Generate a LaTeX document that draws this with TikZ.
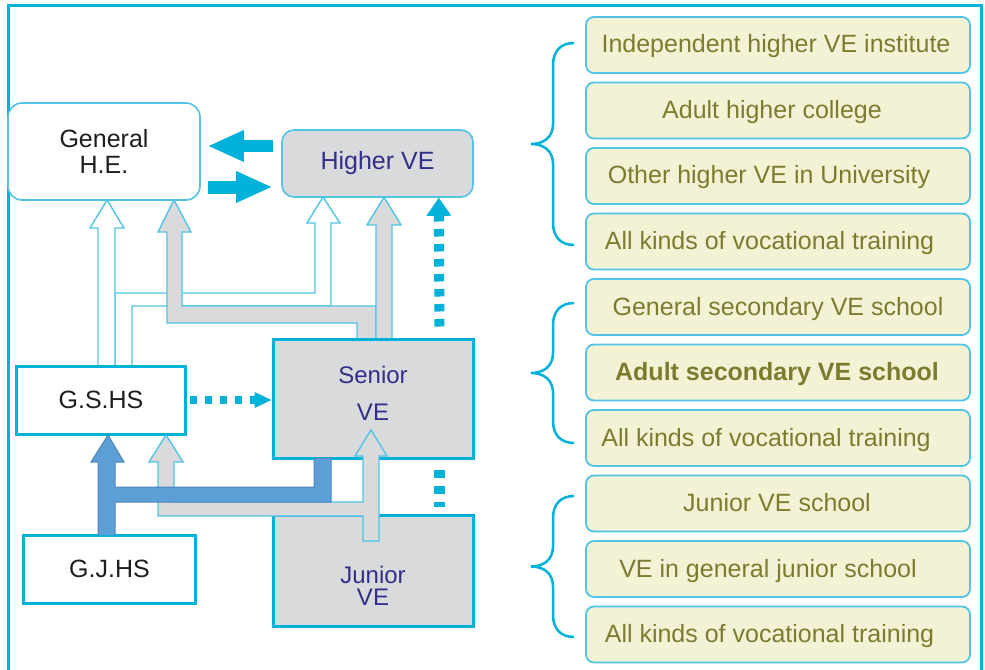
\documentclass[tikz,border=0pt]{standalone}
\usepackage{fontspec}
\setmainfont{Liberation Sans}
\usepackage{tikz}
\usetikzlibrary{arrows.meta}

\definecolor{vecyan}{RGB}{0,178,218}
\definecolor{boxcyan}{RGB}{80,196,228}
\definecolor{vegray}{RGB}{217,218,220}
\definecolor{vecream}{RGB}{244,242,212}
\definecolor{veolive}{RGB}{124,124,48}
\definecolor{venavy}{RGB}{48,48,138}
\definecolor{vedark}{RGB}{30,30,30}
\definecolor{veblue}{RGB}{92,158,214}

\begin{document}
\begin{tikzpicture}[x=1bp, y=-1bp,
    every node/.style={inner sep=0pt, align=center, font=\fontsize{25bp}{26bp}\selectfont},
    hebox/.style={draw=boxcyan, line width=1.6bp, rounded corners=14bp, fill=white, text=vedark},
    hvebox/.style={draw=boxcyan, line width=1.6bp, rounded corners=12bp, fill=vegray, text=venavy},
    hsbox/.style={draw=vecyan, line width=3bp, fill=white, text=vedark},
    vebox/.style={draw=vecyan, line width=3bp, fill=vegray},
    velbl/.style={text=venavy},
    itembox/.style={draw=boxcyan, line width=1.8bp, rounded corners=8bp, fill=vecream, text=veolive,
        minimum width=384bp, minimum height=56bp, text height=18bp, text depth=2bp},
    hollow/.style={draw=boxcyan, line width=1.4bp},
    bigarrow/.style={vecyan, line width=12bp, -{Triangle[length=35bp, width=32bp, line width=0pt]}},
    dotarrow/.style={vecyan, line width=8bp, dash pattern=on 7.5bp off 7.5bp},
    vbrace/.style={vecyan, line width=2.5bp}]
    \useasboundingbox (0,0) rectangle (985,670);
    \draw[vecyan, line width=3bp] (8,672) -- (8,6) -- (981,6) -- (981,672);

    % channels up to the higher level
    \filldraw[hollow, fill=white] (115,366) -- (115,293) -- (315,293) -- (315,223) -- (307,223) -- (323,197)
        -- (340,223) -- (331,223) -- (331,306) -- (132,306) -- (132,366);
    \filldraw[hollow, fill=white] (98,366) -- (98,228) -- (90,228) -- (107,200) -- (124,228) -- (115,228) -- (115,366);
    \filldraw[hollow, fill=vegray] (357,339) -- (357,323) -- (167,323) -- (167,232) -- (158,232) -- (174,200)
        -- (191,232) -- (182,232) -- (182,306) -- (376,306) -- (376,339);
    \filldraw[hollow, fill=vegray] (376,339) -- (376,225) -- (367,225) -- (384,197) -- (401,225) -- (392,225) -- (392,339);

    \node[hebox, minimum width=192bp, minimum height=97bp] (ghe) at (104,151.5) {General\\H.E.};
    \node[hvebox, minimum width=191bp, minimum height=67bp] (hve) at (377.5,163.5) {Higher VE};
    \node[hsbox, minimum width=168bp, minimum height=68bp] (gshs) at (101,400) {G.S.HS};
    \node[hsbox, minimum width=171bp, minimum height=68bp] (gjhs) at (109.5,569) {G.J.HS};
    \node[vebox, minimum width=200bp, minimum height=119bp] (senior) at (373,398.5) {};
    \node[vebox, minimum width=200bp, minimum height=111bp] (junior) at (373,570.5) {};

    % channels from the junior level
    \filldraw[hollow, fill=vegray] (379,541) -- (379,456) -- (387,456) -- (371,430) -- (355,456) -- (363,456)
        -- (363,502) -- (174,502) -- (174,462) -- (183,462) -- (166,435) -- (149,462) -- (158,462)
        -- (158,516) -- (363,516) -- (363,541) -- cycle;
    \filldraw[draw=veblue!85!black, line width=1bp, fill=veblue] (98,535) -- (98,462) -- (91,462) -- (108,435)
        -- (124,462) -- (115,462) -- (115,487) -- (314,487) -- (314,458) -- (331,458) -- (331,502)
        -- (115,502) -- (115,535);

    \node[velbl, font=\fontsize{24bp}{37bp}\selectfont] (seniorlbl) at (373,393.5) {Senior\\VE};
    \node[velbl, font=\fontsize{24bp}{22bp}\selectfont] (juniorlbl) at (373,586) {Junior\\VE};

    \coordinate (toge) at ([yshift=17.5bp]hve.west);
    \coordinate (tohve) at ([yshift=-23.5bp]hve.west);
    \draw[bigarrow, shorten <=8bp, shorten >=8bp] (toge) -- (toge -| ghe.east);
    \draw[bigarrow, line width=13bp, shorten <=7bp, shorten >=10bp] (tohve -| ghe.east) -- (tohve);

    \draw[dotarrow, shorten <=3bp, -{Triangle[length=17bp, width=16bp, line width=0pt]}]
        (gshs.east) -- (gshs.east -| senior.west);
    \draw[dotarrow, line width=10bp, shorten <=11bp, -{Triangle[length=18bp, width=25bp, line width=0pt]}]
        ([xshift=-35bp]senior.north east) -- ([xshift=-35bp]hve.south east);
    \draw[dotarrow, line width=11bp, dash pattern=on 8.5bp off 7.5bp, shorten <=10bp, shorten >=7bp]
        ([xshift=-35bp]senior.south east) -- ([xshift=-35bp]junior.north east);

    \foreach \i/\dx/\t in {1/4/Independent higher VE institute, 2/12/Adult higher college,
        3/18/Other higher VE in University, 4/17/All kinds of vocational training,
        5/0/General secondary VE school, 6/2/\textbf{Adult secondary VE school},
        7/24/All kinds of vocational training, 8/2/Junior VE school, 9/20/VE in general junior school,
        10/17/All kinds of vocational training}
        \node[itembox] (item\i) at (778,{45+65.5*(\i-1)}) {\t\hspace*{\dx bp}};

    \foreach \yt/\yb in {43/245, 303/443, 496/637} {
        \pgfmathsetmacro\ym{(\yt+\yb)/2}
        \draw[vbrace] (574,\yt) .. controls (561,\yt) and (553,{\yt+8}) .. (553,{\yt+22})
            -- (553,{\ym-20}) .. controls (553,{\ym-7}) and (544,\ym) .. (531,\ym)
            .. controls (544,\ym) and (553,{\ym+7}) .. (553,{\ym+20})
            -- (553,{\yb-22}) .. controls (553,{\yb-8}) and (561,\yb) .. (574,\yb);
    }
\end{tikzpicture}
\end{document}
